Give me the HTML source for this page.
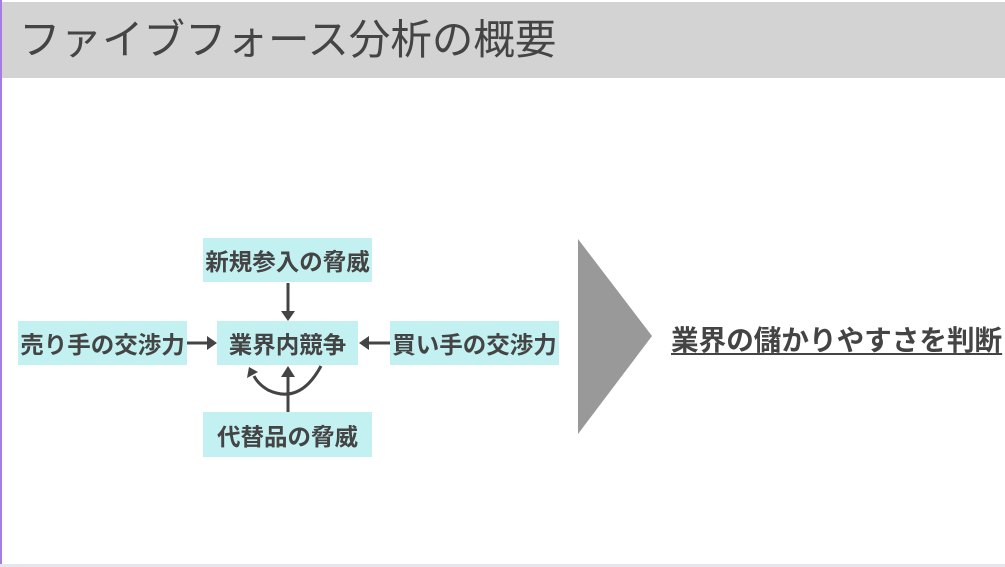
<!DOCTYPE html>
<html><head><meta charset="utf-8"><style>
body{margin:0;width:1005px;height:567px;background:#fff;position:relative;overflow:hidden;font-family:"Liberation Sans","Noto Sans CJK JP",sans-serif;}
.lb{position:absolute;left:0;top:0;width:2px;height:567px;background:#a77be6;}
.bb{position:absolute;left:0;top:564px;width:1005px;height:3px;background:#e6e6f0;}
.hd{position:absolute;left:2px;top:2px;width:1003px;height:76px;background:#d3d3d3;}
.tt{position:absolute;left:19px;top:13px;font-size:41.5px;color:#444;line-height:54px;white-space:nowrap;}
.bx{position:absolute;background:#c3f1f2;color:#444;font-weight:bold;font-size:23.5px;display:flex;align-items:center;justify-content:center;white-space:nowrap;}
.rt{position:absolute;left:671px;top:322px;font-size:27.6px;font-weight:bold;color:#444;text-decoration:underline;text-underline-offset:3px;white-space:nowrap;line-height:38px;}
</style></head><body>
<div class="hd"></div>
<div class="lb"></div>
<div class="bb"></div>
<div class="tt">ファイブフォース分析の概要</div>
<div class="bx" style="left:203px;top:238px;width:169px;height:44px;">新規参入の脅威</div>
<div class="bx" style="left:18px;top:321px;width:169px;height:44px;">売り手の交渉力</div>
<div class="bx" style="left:217px;top:321px;width:141px;height:44px;">業界内競争</div>
<div class="bx" style="left:390px;top:321px;width:169px;height:44px;">買い手の交渉力</div>
<div class="bx" style="left:203px;top:412px;width:169px;height:45px;">代替品の脅威</div>
<svg width="1005" height="567" style="position:absolute;left:0;top:0">
<g stroke="#444" stroke-width="3" fill="none">
<line x1="288" y1="283" x2="288" y2="312"/>
<line x1="187" y1="343" x2="208" y2="343"/>
<line x1="390" y1="343" x2="368" y2="343"/>
<line x1="288" y1="412" x2="288" y2="376"/>
<path d="M321 366 Q300 405 268 390 Q258 384 254 376"/>
</g>
<g fill="#444">
<polygon points="281,311 295,311 288,321"/>
<polygon points="207,336 207,350 217,343"/>
<polygon points="369,336 369,350 359,343"/>
<polygon points="281,377 295,377 288,366"/>
<polygon points="247,378 258,372 249,367"/>
</g>
<polygon points="578,239 652,336 578,434" fill="#999"/>
</svg>
<div class="rt">業界の儲かりやすさを判断</div>
</body></html>
